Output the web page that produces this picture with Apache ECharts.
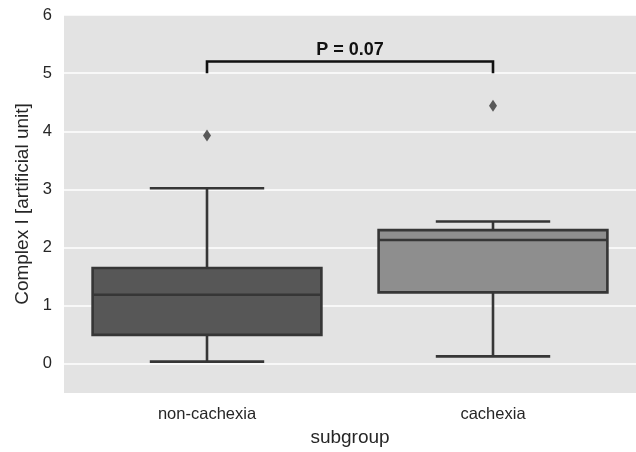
<!DOCTYPE html>
<html>
<head>
<meta charset="utf-8">
<script src="https://cdn.jsdelivr.net/npm/echarts@6/dist/echarts.min.js"></script>
<style>html,body{margin:0;padding:0;background:#fff}#c{width:636px;height:452px}</style>
</head>
<body>
<div id="c"></div>
<script>
const categories = ['non-cachexia', 'cachexia'];
const whiskerLow = [0.04, 0.13];
const q1 = [0.50, 1.23];
const median = [1.19, 2.13];
const q3 = [1.65, 2.30];
const whiskerHigh = [3.02, 2.45];
const outliers = [[0, 3.93], [1, 4.44]];
const yTicks = [0, 1, 2, 3, 4, 5, 6];
const boxColors = ['#575757', '#8e8e8e'];
const bracketGroups = [0, 1];
const bracketY = [5.0, 5.2];
const pLabel = 'P = 0.07';

const boxData = categories.map((c, i) => [i, whiskerLow[i], q1[i], median[i], q3[i], whiskerHigh[i]]);
const lineCol = '#363636';
const font = 'Liberation Sans, Arial, sans-serif';

const chart = echarts.init(document.getElementById('c'), null, {renderer: 'canvas'});
chart.setOption({
  animation: false,
  grid: {left: 64, top: 15, width: 574, height: 382, show: true, backgroundColor: '#e3e3e3', borderWidth: 0, containLabel: false},
  xAxis: {
    type: 'category', data: categories, boundaryGap: true,
    axisLine: {show: false}, axisTick: {show: false}, splitLine: {show: false},
    axisLabel: {color: '#262626', fontSize: 16.5, fontFamily: font, margin: 13},
    name: 'subgroup', nameLocation: 'middle', nameGap: 35,
    nameTextStyle: {color: '#262626', fontSize: 19, fontFamily: font}
  },
  yAxis: {
    type: 'value', min: -0.5, max: 6,
    axisLine: {show: false},
    axisTick: {show: false, customValues: yTicks},
    axisLabel: {color: '#262626', fontSize: 16.5, fontFamily: font, margin: 12, customValues: yTicks},
    splitLine: {show: true, lineStyle: {color: '#ffffff', width: 1.6}},
    name: 'Complex I [artificial unit]', nameLocation: 'middle', nameGap: 30,
    nameTextStyle: {color: '#262626', fontSize: 19, fontFamily: font}
  },
  series: [
    {
      type: 'custom',
      data: boxData,
      renderItem: function (params, api) {
        const i = api.value(0);
        const band = api.size([1, 0])[0];
        const hw = band * 0.4;
        const cw = band * 0.2;
        const pLow = api.coord([i, api.value(1)]);
        const pQ1 = api.coord([i, api.value(2)]);
        const pMed = api.coord([i, api.value(3)]);
        const pQ3 = api.coord([i, api.value(4)]);
        const pHigh = api.coord([i, api.value(5)]);
        const x = pMed[0];
        const st = {stroke: lineCol, lineWidth: 2.6, fill: null};
        return {
          type: 'group',
          children: [
            {type: 'line', shape: {x1: x, y1: pQ3[1], x2: x, y2: pHigh[1]}, style: st},
            {type: 'line', shape: {x1: x, y1: pQ1[1], x2: x, y2: pLow[1]}, style: st},
            {type: 'line', shape: {x1: x - cw, y1: pHigh[1], x2: x + cw, y2: pHigh[1]}, style: st},
            {type: 'line', shape: {x1: x - cw, y1: pLow[1], x2: x + cw, y2: pLow[1]}, style: st},
            {type: 'rect', shape: {x: x - hw, y: pQ3[1], width: 2 * hw, height: pQ1[1] - pQ3[1]},
              style: {fill: boxColors[i], stroke: lineCol, lineWidth: 2.6}},
            {type: 'line', shape: {x1: x - hw, y1: pMed[1], x2: x + hw, y2: pMed[1]}, style: st}
          ]
        };
      }
    },
    {
      type: 'scatter',
      data: outliers,
      symbol: 'diamond',
      symbolSize: [8, 12],
      itemStyle: {color: lineCol}
    },
    {
      type: 'custom',
      data: [[bracketGroups[0], bracketGroups[1], bracketY[0], bracketY[1]]],
      renderItem: function (params, api) {
        const a0 = api.coord([api.value(0), api.value(2)]);
        const a1 = api.coord([api.value(0), api.value(3)]);
        const b1 = api.coord([api.value(1), api.value(3)]);
        const b0 = api.coord([api.value(1), api.value(2)]);
        return {
          type: 'group',
          children: [
            {type: 'polyline', shape: {points: [a0, a1, b1, b0]}, style: {stroke: '#111111', lineWidth: 2.6, fill: null}},
            {type: 'text', x: (a1[0] + b1[0]) / 2, y: a1[1] - 2,
              style: {text: pLabel, fill: '#111111', font: 'bold 18px ' + font, align: 'center', verticalAlign: 'bottom'}}
          ]
        };
      }
    }
  ]
});
</script>
</body>
</html>
